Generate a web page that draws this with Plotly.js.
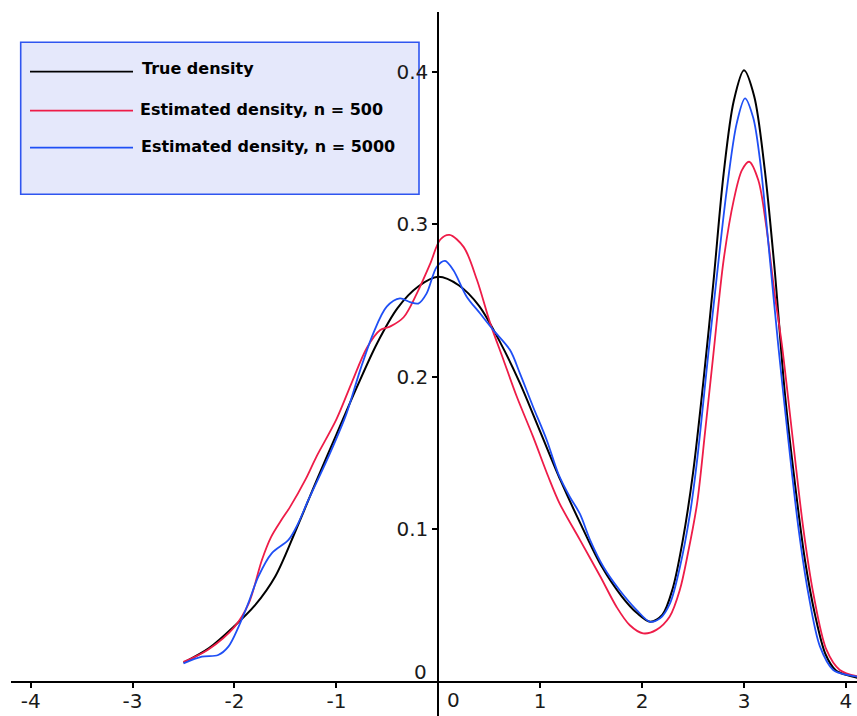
<!DOCTYPE html>
<html>
<head>
<meta charset="utf-8">
<script src="https://cdn.plot.ly/plotly-3.0.1.min.js"></script>
<style>
html,body{margin:0;padding:0;background:#ffffff;}
#chart{width:857px;height:716px;}
</style>
</head>
<body>
<div id="chart"></div>
<script>
// ---------- data ----------
const seriesNames = ["True density", "Estimated density, n = 500", "Estimated density, n = 5000"];

const trueX = [-2.5,-2.25,-2.0,-1.8,-1.6,-1.4,-1.2,-1.0,-0.8,-0.6,-0.4,-0.2,0.0,0.2,0.4,0.6,0.8,1.0,1.2,1.4,1.6,1.8,1.95,2.08,2.2,2.3,2.4,2.5,2.6,2.7,2.8,2.9,3.0,3.1,3.2,3.3,3.4,3.5,3.6,3.7,3.8,3.9,4.0,4.15];
const trueY = [0.0125,0.022,0.0365,0.050,0.069,0.099,0.131,0.162,0.193,0.222,0.245,0.259,0.2655,0.260,0.2465,0.2235,0.196,0.164,0.132,0.103,0.076,0.056,0.045,0.0393,0.044,0.061,0.093,0.137,0.196,0.262,0.333,0.381,0.401,0.384,0.338,0.271,0.19,0.130,0.079,0.043,0.018,0.0075,0.0045,0.002];

const n500X = [-2.5,-2.26,-2.0,-1.86,-1.73,-1.64,-1.54,-1.46,-1.3,-1.2,-1.0,-0.85,-0.7,-0.57,-0.47,-0.34,-0.21,-0.08,0.02,0.11,0.25,0.38,0.51,0.64,0.77,0.93,1.08,1.19,1.39,1.59,1.75,1.88,2.01,2.14,2.27,2.37,2.45,2.54,2.62,2.7,2.8,2.9,2.98,3.05,3.14,3.22,3.3,3.37,3.48,3.58,3.68,3.81,3.94,4.15];
const n500Y = [0.013,0.021,0.036,0.0514,0.080,0.095,0.106,0.114,0.133,0.147,0.172,0.196,0.219,0.2306,0.233,0.239,0.2547,0.274,0.290,0.293,0.285,0.2634,0.235,0.211,0.187,0.1607,0.1344,0.117,0.093,0.069,0.049,0.037,0.0317,0.034,0.0426,0.0601,0.0842,0.117,0.165,0.215,0.2765,0.316,0.3355,0.341,0.329,0.298,0.2547,0.222,0.1585,0.1016,0.058,0.0208,0.0077,0.003];

const n5000X = [-2.5,-2.32,-2.16,-2.06,-1.96,-1.865,-1.766,-1.635,-1.47,-1.374,-1.276,-1.063,-0.9,-0.768,-0.638,-0.506,-0.376,-0.278,-0.196,-0.114,-0.016,0.066,0.147,0.279,0.409,0.54,0.704,0.802,0.932,1.064,1.18,1.29,1.39,1.49,1.62,1.78,1.947,2.077,2.176,2.274,2.372,2.47,2.536,2.65,2.732,2.83,2.928,3.01,3.09,3.157,3.255,3.337,3.435,3.533,3.631,3.746,3.876,4.01,4.15];
const n5000Y = [0.012,0.0164,0.0175,0.023,0.036,0.0514,0.0689,0.0842,0.093,0.104,0.119,0.1498,0.176,0.204,0.2285,0.246,0.2514,0.249,0.248,0.2547,0.272,0.276,0.270,0.2525,0.2416,0.2306,0.2175,0.202,0.180,0.1585,0.136,0.1213,0.110,0.0929,0.0754,0.060,0.047,0.0393,0.0415,0.0514,0.0754,0.110,0.143,0.215,0.265,0.322,0.366,0.3826,0.370,0.342,0.2765,0.22,0.1585,0.1016,0.058,0.023,0.0077,0.0044,0.003];

const xTickVals = [-4,-3,-2,-1,1,2,3,4];
const xTickText = ["-4","-3","-2","-1","1","2","3","4"];
const yTickVals = [0.1,0.2,0.3,0.4];
const yTickText = ["0.1","0.2","0.3","0.4"];
const zeroLabel = "0";

// ---------- layout helpers ----------
const W = 857, H = 716;
const M = {l: 11, r: 0, t: 12, b: 0};
const xRange = [-4.193, 4.109];
const yRange = [-0.0225, 0.4392];
const pw = W - M.l - M.r, ph = H - M.t - M.b;
const pxX = v => (v - M.l) / pw;          // page pixel -> paper x
const pxY = v => (H - M.b - v) / ph;      // page pixel -> paper y

const colors = ["#000000", "#ee1c48", "#1f4ff5"];
const xs = [trueX, n500X, n5000X];
const ys = [trueY, n500Y, n5000Y];

const traces = xs.map((x, i) => ({
  x: x, y: ys[i], type: "scatter", mode: "lines", name: seriesNames[i],
  line: {color: colors[i], width: i === 0 ? 2 : 1.8, shape: "spline", smoothing: 0.9},
  hoverinfo: "skip", cliponaxis: true
}));

const tickFont = {family: "DejaVu Sans", size: 20, color: "#1a1a1a"};
const legFont = {family: "DejaVu Sans", size: 16, color: "#000000", weight: "bold"};

const xPos = (0 - yRange[0]) / (yRange[1] - yRange[0]);
const yPos = (0 - xRange[0]) / (xRange[1] - xRange[0]);

// legend drawn manually (box, sample lines, labels)
const legLineY = [71.7, 110.7, 147.7];
const legTextY = [68.5, 110, 146.7];
const legTextX = [141, 138.5, 139.5];

const shapes = [{
  type: "rect", xref: "paper", yref: "paper",
  x0: pxX(20.7), x1: pxX(419), y0: pxY(194.3), y1: pxY(42.3),
  fillcolor: "#e5e8fb", line: {color: "#2f55f0", width: 1.6}, layer: "below"
}];
const annotations = [];
seriesNames.forEach((name, i) => {
  shapes.push({type: "line", xref: "paper", yref: "paper",
    x0: pxX(30), x1: pxX(133), y0: pxY(legLineY[i]), y1: pxY(legLineY[i]),
    line: {color: colors[i], width: 1.8}, layer: "below"});
  annotations.push({xref: "paper", yref: "paper", x: pxX(legTextX[i]), y: pxY(legTextY[i]),
    xanchor: "left", yanchor: "middle", text: "<b>" + name + "</b>", showarrow: false,
    font: legFont, borderpad: 0});
});
// zero labels placed like the reference
annotations.push({xref: "x", yref: "y", x: 0, y: 0, xshift: 15, yshift: -18, text: zeroLabel,
  showarrow: false, font: tickFont, xanchor: "center", yanchor: "middle"});
annotations.push({xref: "x", yref: "y", x: 0, y: 0, xshift: -18, yshift: 10, text: zeroLabel,
  showarrow: false, font: tickFont, xanchor: "center", yanchor: "middle"});

const layout = {
  width: W, height: H,
  margin: M,
  paper_bgcolor: "#ffffff", plot_bgcolor: "#ffffff",
  showlegend: false,
  xaxis: {
    range: xRange, anchor: "free", position: xPos, automargin: false,
    showgrid: false, zeroline: false, showline: true, linecolor: "#000000", linewidth: 2,
    ticks: "outside", ticklen: 5, tickwidth: 2, tickcolor: "#000000",
    ticklabelstandoff: -4,
    tickmode: "array", tickvals: xTickVals, ticktext: xTickText, tickfont: tickFont
  },
  yaxis: {
    range: yRange, anchor: "free", position: yPos, automargin: false,
    showgrid: false, zeroline: false, showline: true, linecolor: "#000000", linewidth: 2,
    ticks: "outside", ticklen: 5, tickwidth: 2, tickcolor: "#000000",
    tickmode: "array", tickvals: yTickVals, ticktext: yTickText, tickfont: tickFont
  },
  shapes: shapes,
  annotations: annotations
};

Plotly.newPlot("chart", traces, layout, {displayModeBar: false, staticPlot: true});
</script>
</body>
</html>
